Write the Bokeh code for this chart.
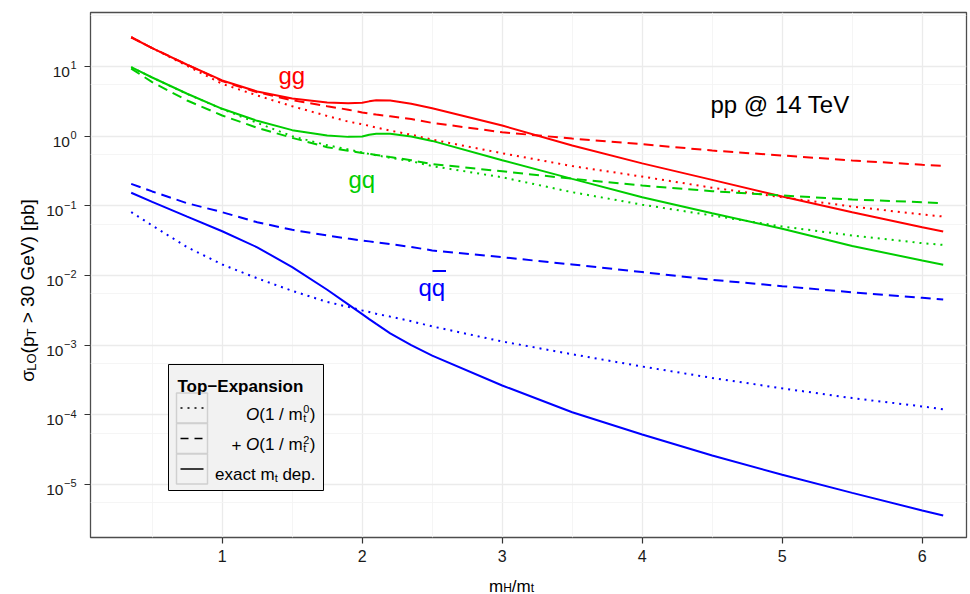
from math import pi
from bokeh.plotting import figure
from bokeh.layouts import column, row
from bokeh.models import Range1d, FixedTicker, Label, CustomJSTickFormatter
from bokeh.embed import file_html
from bokeh.resources import INLINE

# ---------------- data ----------------
mh_over_mt = [0.35, 0.5, 0.75, 1.0, 1.25, 1.5, 1.75, 1.9, 2.0, 2.05, 2.1, 2.2,
              2.35, 2.5, 3.0, 3.5, 4.0, 4.5, 5.0, 5.5, 6.0, 6.15]

gg_exact = [26.3, 18.4, 10.6, 6.31, 4.37, 3.47, 3.05, 2.96, 3.01, 3.16, 3.27, 3.25,
            2.92, 2.51, 1.42, 0.735, 0.407, 0.236, 0.136, 0.0811, 0.0494, 0.0429]
gg_mt0 = [26.3, 18.4, 10.2, 5.64, 3.84, 2.69, 1.95, 1.62, 1.48, 1.41, 1.33, 1.20,
          1.05, 0.891, 0.569, 0.372, 0.263, 0.182, 0.133, 0.0977, 0.0752, 0.0703]
gg_mt2 = [26.3, 18.4, 10.6, 6.17, 4.27, 3.28, 2.69, 2.40, 2.19, 2.11, 2.04, 1.93,
          1.76, 1.55, 1.14, 0.923, 0.767, 0.622, 0.528, 0.448, 0.388, 0.376]

gq_exact = [9.77, 6.95, 4.06, 2.47, 1.66, 1.22, 1.02, 0.977, 0.989, 1.05, 1.08, 1.08,
            0.989, 0.855, 0.452, 0.244, 0.133, 0.0785, 0.0468, 0.0266, 0.0164, 0.0143]
gq_mt0 = [9.77, 6.95, 4.03, 2.45, 1.55, 1.0, 0.741, 0.646, 0.582, 0.556, 0.531, 0.490,
          0.437, 0.372, 0.257, 0.157, 0.104, 0.0726, 0.0505, 0.0375, 0.0291, 0.0275]
gq_mt2 = [9.33, 5.96, 3.25, 1.98, 1.32, 0.946, 0.695, 0.617, 0.575, 0.556, 0.537, 0.501,
          0.452, 0.398, 0.313, 0.245, 0.196, 0.162, 0.141, 0.123, 0.113, 0.109]

qq_exact = [0.154, 0.114, 0.0700, 0.0432, 0.0254, 0.0132, 0.00624, 0.00385, 0.00279,
            0.00237, 0.00202, 0.00148, 0.00100, 7.08e-4, 2.64e-4, 1.09e-4, 5.22e-5,
            2.61e-5, 1.38e-5, 7.59e-6, 4.24e-6, 3.59e-6]
qq_mt0 = [0.0813, 0.0522, 0.0255, 0.0144, 0.00912, 0.00603, 0.00417, 0.00355, 0.00316,
          0.00299, 0.00282, 0.00257, 0.00221, 0.00186, 0.00113, 7.41e-4, 4.94e-4,
          3.39e-4, 2.40e-4, 1.74e-4, 1.32e-4, 1.20e-4]
qq_mt2 = [0.207, 0.161, 0.109, 0.0811, 0.0582, 0.0453, 0.0375, 0.0339, 0.0318, 0.0309,
          0.0299, 0.0282, 0.0257, 0.0229, 0.0183, 0.0144, 0.0112, 0.00867, 0.00703,
          0.00575, 0.00479, 0.00453]

x_ticks = [1, 2, 3, 4, 5, 6]
x_minor = [0.5, 1.5, 2.5, 3.5, 4.5, 5.5, 6.5]
y_exponents = [1, 0, -1, -2, -3, -4, -5]
y_ticks = [10.0 ** e for e in y_exponents]
y_minor = [0.546 * 10.0 ** e for e in range(-6, 3)]

channel_labels = ["gg", "gq", "qq"]
legend_title = "Top\u2212Expansion"

RED, GREEN, BLUE = "#FF0000", "#00CD00", "#0000FF"
DOT, DASH = "2 5", "10 6"
FONT = "Liberation Sans"

# page geometry (pixels of the 970x594 picture)
TOTAL_W, TOTAL_H = 968, 592
LEFT_W = 80                 # side panel holding y tick labels and y title
MAIN_H = 568                # main plot height; x title panel below it
FL, FT, FR, FB = 90, 12, 966, 537


# reference-pixel -> data mapping of the main frame
def px_x(X):
    return 1.0 + (X - 221.7) / 140.0


def px_y(Y):
    return 10.0 ** (1.0 - (Y - 66.0) / 69.67)


W = {' ': .278, '+': .584, '(': .333, ')': .333, '/': .278, '.': .278, '>': .584,
     '@': 1.015, 'O': .778, 'G': .778, 'V': .667, 'T': .611, 'L': .556, 'H': .722,
     'e': .556, 'x': .5, 'a': .556, 'c': .5, 't': .278, 'm': .833, 'd': .556,
     'p': .556, 'b': .556, '[': .278, ']': .278, '\u03c3': .58, '\u2212': .584,
     'g': .556, 'q': .556}


def tw(s, size):
    return sum(W.get(c, 0.556) for c in s) * size


def blank_fig(width, height, x0, y_top, y_bot, b_top=0, b_bot=0):
    """A figure without axes; its frame spans page rows y_top..y_bot and its
    data units are page pixels."""
    f = figure(width=width, height=height, title=None,
               x_range=Range1d(x0, x0 + width), y_range=Range1d(y_bot, y_top),
               x_axis_location=None, y_axis_location=None,
               output_backend="svg", toolbar_location=None,
               min_border=0, min_border_left=0, min_border_right=0,
               min_border_top=b_top, min_border_bottom=b_bot)
    f.outline_line_color = None
    f.xgrid.visible = False
    f.ygrid.visible = False
    f.background_fill_color = "white"
    f.border_fill_color = "white"
    return f


def put(fig, X, Y, s, size, color="black", style="normal", align="left", angle=0.0,
        xmap=lambda v: v, ymap=lambda v: v):
    fig.add_layout(Label(x=xmap(X), y=ymap(Y), text=s, text_font=FONT,
                         text_font_size=f"{size}px", text_color=color,
                         text_font_style=style, text_align=align,
                         text_baseline="alphabetic", angle=angle))


# ---------------- main plot ----------------
p = figure(width=TOTAL_W - LEFT_W, height=MAIN_H, title=None,
           x_range=Range1d(px_x(FL), px_x(FR)),
           y_range=Range1d(px_y(FB), px_y(FT)),
           y_axis_type="log", output_backend="svg", toolbar_location=None,
           min_border_left=FL - LEFT_W, min_border_right=TOTAL_W - FR,
           min_border_top=FT, min_border_bottom=MAIN_H - FB)

p.background_fill_color = "white"
p.border_fill_color = "white"
p.outline_line_color = "#4D4D4D"
p.outline_line_width = 1.3

xt = FixedTicker(ticks=x_ticks, minor_ticks=x_minor)
yt = FixedTicker(ticks=y_ticks, minor_ticks=y_minor)
p.xaxis.ticker = xt
p.yaxis.ticker = yt
p.xgrid[0].ticker = xt
p.ygrid[0].ticker = yt
for g in (p.xgrid[0], p.ygrid[0]):
    g.grid_line_color = "#EBEBEB"
    g.grid_line_width = 1.3
    g.minor_grid_line_color = "#F4F4F4"
    g.minor_grid_line_width = 0.9

for ax in (p.xaxis[0], p.yaxis[0]):
    ax.axis_line_color = None
    ax.major_tick_out = 6
    ax.major_tick_in = 0
    ax.major_tick_line_color = "#333333"
    ax.major_tick_line_width = 1.2
    ax.minor_tick_line_color = None

p.xaxis.major_label_text_font = FONT
p.xaxis.major_label_text_font_size = "16px"
p.xaxis.major_label_text_color = "#1A1A1A"
p.xaxis.major_label_standoff = 6
p.yaxis.formatter = CustomJSTickFormatter(code="return ''")
p.yaxis.major_label_standoff = 0

curves = [
    (gg_mt0, RED, DOT), (gg_mt2, RED, DASH), (gg_exact, RED, "solid"),
    (gq_mt0, GREEN, DOT), (gq_mt2, GREEN, DASH), (gq_exact, GREEN, "solid"),
    (qq_mt0, BLUE, DOT), (qq_mt2, BLUE, DASH), (qq_exact, BLUE, "solid"),
]
for vals, col, dash in curves:
    p.line(mh_over_mt, vals, line_color=col, line_width=2, line_dash=dash)


def lab(X, Y, s, size, color="black", style="normal", align="left"):
    put(p, X, Y, s, size, color, style, align, xmap=px_x, ymap=px_y)


# in-plot annotations
lab(278, 74.5, channel_labels[0], 24, RED)
lab(348, 179, channel_labels[1], 24, GREEN)
lab(418, 287, channel_labels[2], 24, BLUE)
p.line([px_x(432), px_x(445.5)], [px_y(270.5), px_y(270.5)], line_color=BLUE,
       line_width=2)
lab(710, 103.5, "pp @ 14 TeV", 24, "black")

# legend
p.quad(left=[px_x(168)], right=[px_x(323)], top=[px_y(364)], bottom=[px_y(490)],
       fill_color="#F2F2F2", line_color="black", line_width=1)
rows = [(392.5, 422.5), (423, 453), (453.5, 483.5)]
p.quad(left=[px_x(176)] * 3, right=[px_x(207)] * 3,
       top=[px_y(a) for a, b in rows], bottom=[px_y(b) for a, b in rows],
       fill_color="#F2F2F2", line_color="#D0D0D0", line_width=1.5)
for (a, b), dash in zip(rows, [DOT, "8 6", "solid"]):
    yc_ = (a + b) / 2
    p.line([px_x(180), px_x(203)], [px_y(yc_), px_y(yc_)], line_color="black",
           line_width=1.6, line_dash=dash)

lab(177, 385.5, legend_title, 17, "black", style="bold")
RX = 315.0
FS = 17
for bl, sup, plus in [(413.5, "0", False), (444.0, "2", True)]:
    w_total = (tw("+ ", FS) if plus else 0) + tw("O", FS) + tw("(1 / m", FS) \
        + tw(sup, 11) + 1 + tw(")", FS)
    x0 = RX - w_total
    if plus:
        lab(x0, bl, "+", FS)
        x0 += tw("+ ", FS)
    lab(x0, bl, "O", FS, style="italic")
    x0 += tw("O", FS)
    lab(x0, bl, "(1 / m", FS)
    x0 += tw("(1 / m", FS) + 0.5
    lab(x0, bl - 5, sup, 11)
    lab(x0, bl + 3.5, "t", 11)
    x0 += tw(sup, 11) + 0.5
    lab(x0, bl, ")", FS)
bl = 473.5
w_total = tw("exact m", FS) + tw("t", 11) + tw(" dep.", FS)
x0 = RX - w_total
lab(x0, bl, "exact m", FS)
x0 += tw("exact m", FS)
lab(x0, bl + 3.5, "t", 11)
x0 += tw("t", 11) + tw(" ", FS)
lab(x0, bl, "dep.", FS)

# ---------------- left panel: y tick labels and y title ----------------
# its frame is aligned with the main frame (page rows FT..FB)
left = blank_fig(LEFT_W, MAIN_H, 0, FT, FB, b_top=FT, b_bot=MAIN_H - FB)
for e in y_exponents:
    Yt = 66.0 + (1 - e) * 69.67
    es = str(e).replace("-", "\u2212")
    ew = tw(es, 11)
    R = 76.0
    put(left, R - ew - 0.5, Yt + 5.4, "10", 15.5, "#1A1A1A", align="right")
    put(left, R - ew, Yt + 5.4 - 6.5, es, 11, "#1A1A1A")

yc = 290.0
pieces = [("\u03c3", 19, 0), ("LO", 13, 4), ("(p", 19, 0), ("T", 13, 4),
          (" > 30 GeV) [pb]", 19, 0)]
total = sum(tw(s, f) for s, f, _ in pieces)
Ycur = yc + total / 2
for s, f, dx in pieces:
    lead = len(s) - len(s.lstrip(" "))
    put(left, 27 + dx, Ycur - tw(" " * lead, f), s.lstrip(" "), f, "black",
        angle=pi / 2)
    Ycur -= tw(s, f)

# ---------------- bottom panel: x title ----------------
bottom = blank_fig(TOTAL_W, TOTAL_H - MAIN_H, 0, MAIN_H, TOTAL_H)
xpieces = [("m", 17, 0), ("H", 12, 2), ("/m", 17, 0), ("t", 12, 2)]
total = sum(tw(s, f) for s, f, _ in xpieces)
Xcur = 511 - total / 2
for s, f, dy in xpieces:
    put(bottom, Xcur, 585.5 + dy, s, f, "black")
    Xcur += tw(s, f)

layout = column(row(left, p, spacing=0), bottom, spacing=0)
open("out.html", "w").write(file_html(layout, INLINE))
